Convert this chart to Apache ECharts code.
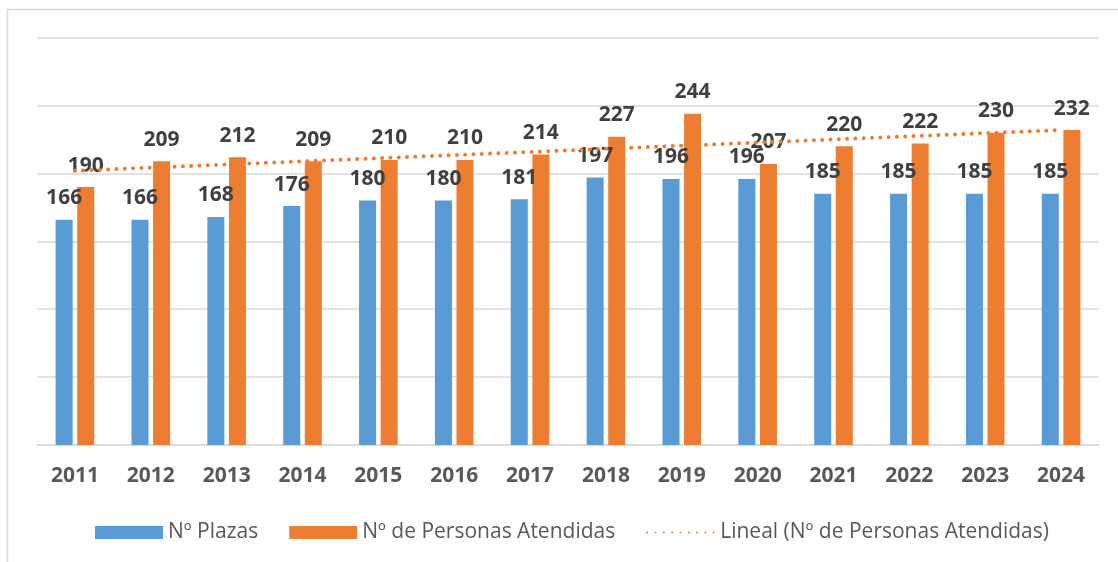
<!DOCTYPE html>
<html>
<head>
<meta charset="utf-8">
<script src="https://cdn.jsdelivr.net/npm/echarts@6/dist/echarts.min.js"></script>
<style>html,body{margin:0;padding:0;background:#fff}#c{width:1118px;height:562px}</style>
</head>
<body>
<div id="c"></div>
<script>
var categories = ['2011','2012','2013','2014','2015','2016','2017','2018','2019','2020','2021','2022','2023','2024'];
var plazas = [166,166,168,176,180,180,181,197,196,196,185,185,185,185];
var personas = [190,209,212,209,210,210,214,227,244,207,220,222,230,232];
// trend line endpoints (first and last category)
var trendStart = 202;
var trendEnd = 232;
var yTicks = [0,50,100,150,200,250,300];

var trend = categories.map(function(c,i){ return i===0 ? trendStart : (i===categories.length-1 ? trendEnd : null); });

var FONT = '"Open Sans", "Liberation Sans", sans-serif';
var chart = echarts.init(document.getElementById('c'));
var labelStyle = {show:true, position:'top', distance:11, color:'#404040', fontFamily:FONT, fontWeight:'bold', fontSize:21};
chart.setOption({
  animation:false,
  graphic:[{type:'rect', shape:{x:7.5,y:9.5,width:1200,height:700}, style:{fill:null, stroke:'#d9d9d9', lineWidth:1.5}, silent:true}],
  grid:{left:37, right:19, top:37.7, bottom:117},
  legend:{
    left:90, top:517, itemWidth:68, itemHeight:13, itemGap:31,
    textStyle:{color:'#595959', fontFamily:FONT, fontSize:21},
    data:[{name:'Nº Plazas', icon:'rect'},{name:'Nº de Personas Atendidas', icon:'rect'},{name:'Lineal (Nº de Personas Atendidas)', itemStyle:{opacity:0}}]
  },
  xAxis:{
    type:'category', data:categories,
    axisLine:{lineStyle:{color:'#d9d9d9', width:1.5}},
    axisTick:{show:false},
    axisLabel:{color:'#595959', fontFamily:FONT, fontWeight:'bold', fontSize:21, margin:21}
  },
  yAxis:{
    type:'value', min:yTicks[0], max:yTicks[yTicks.length-1], interval:50,
    axisLabel:{show:false}, axisLine:{show:false}, axisTick:{show:false},
    splitLine:{lineStyle:{color:'#d9d9d9', width:1.5}}
  },
  series:[
    {name:'Nº Plazas', type:'bar', data:plazas, barWidth:17, barGap:'27%',
     itemStyle:{color:'#5B9BD5'}, label:labelStyle},
    {name:'Nº de Personas Atendidas', type:'bar', data:personas, barWidth:17,
     itemStyle:{color:'#ED7D31'}, label:labelStyle},
    {name:'Lineal (Nº de Personas Atendidas)', type:'line', data:trend, connectNulls:true,
     symbol:'none', z:5,
     itemStyle:{color:'#ED7D31'},
     lineStyle:{color:'#ED7D31', width:4, type:[0.01,8.3], cap:'round'}}
  ]
});
</script>
</body>
</html>
